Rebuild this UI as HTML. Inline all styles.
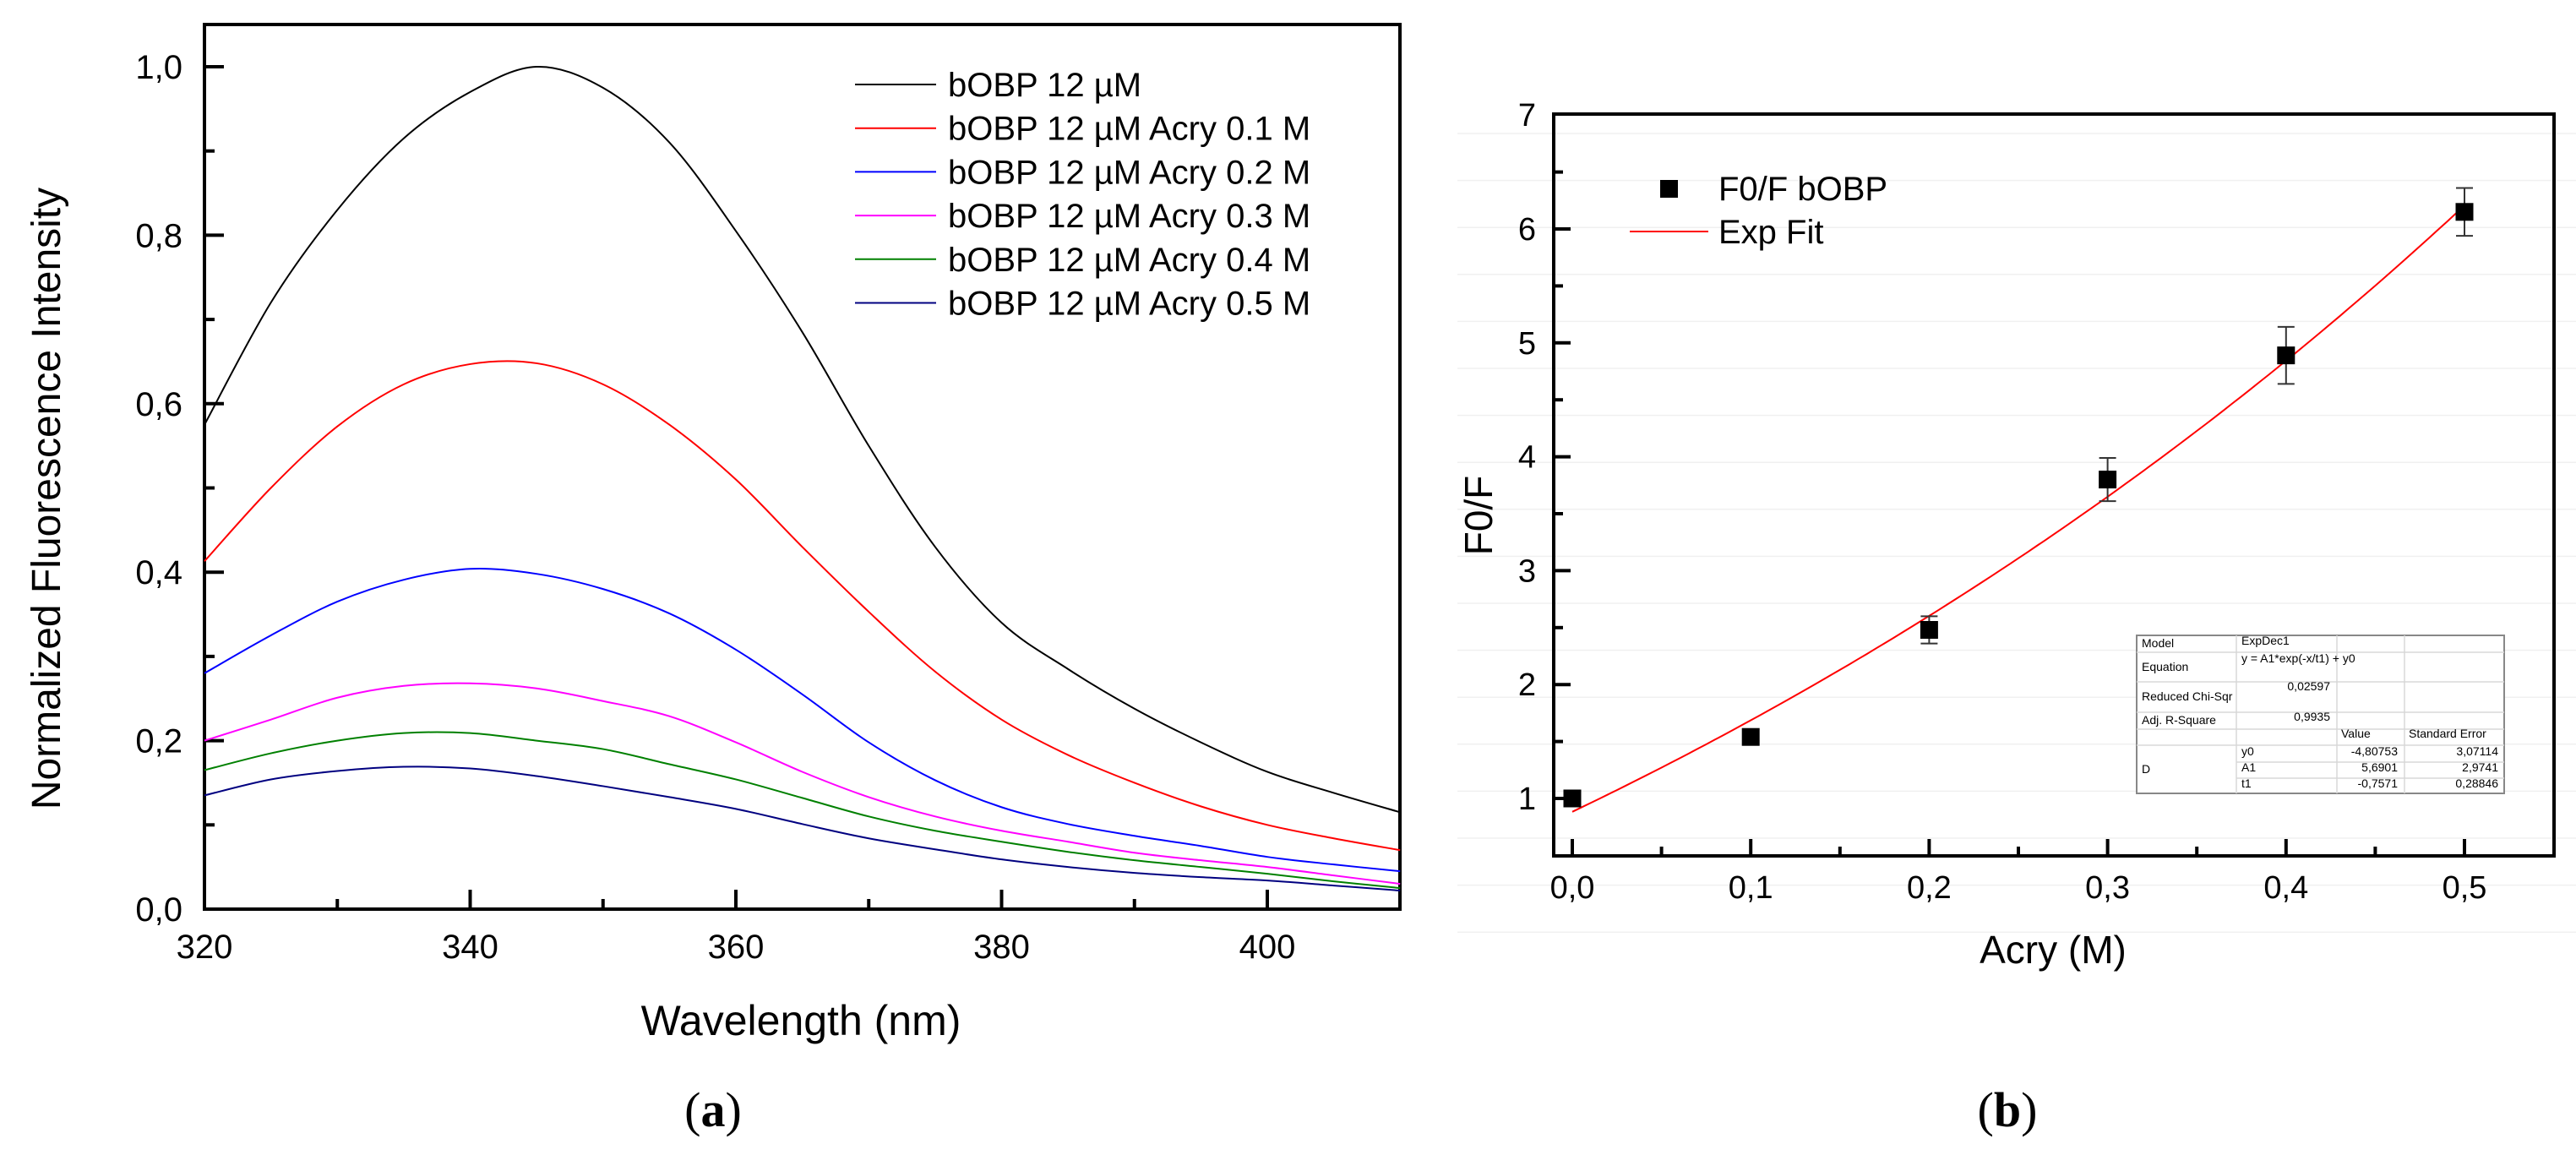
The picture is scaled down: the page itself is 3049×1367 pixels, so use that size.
<!DOCTYPE html>
<html><head><meta charset="utf-8"><style>
html,body{margin:0;padding:0;background:#fff;}
svg{display:block;font-family:"Liberation Sans",sans-serif;}
</style></head><body>
<svg id="fig" width="3049" height="1367" viewBox="0 0 3049 1367" xmlns="http://www.w3.org/2000/svg">
<g id="gA"></g>
<g id="gB"></g>
</svg>
<script>
// Panel (a) data
const wavelengths = [320,325,330,335,340,345,350,355,360,365,370,375,380,385,390,395,400,405,410];
const seriesNames = ["bOBP 12 µM","bOBP 12 µM Acry 0.1 M","bOBP 12 µM Acry 0.2 M","bOBP 12 µM Acry 0.3 M","bOBP 12 µM Acry 0.4 M","bOBP 12 µM Acry 0.5 M"];
const seriesColors = ["#000000","#ff0000","#0000ff","#ff00ff","#008000","#000080"];
const s0 = [0.575,0.72,0.83,0.915,0.97,1.0,0.975,0.91,0.805,0.685,0.55,0.43,0.34,0.285,0.238,0.198,0.163,0.138,0.115];
const s1 = [0.413,0.50,0.573,0.623,0.647,0.648,0.623,0.575,0.51,0.43,0.353,0.282,0.225,0.183,0.15,0.122,0.1,0.084,0.07];
const s2 = [0.28,0.325,0.365,0.391,0.404,0.398,0.38,0.351,0.308,0.255,0.198,0.153,0.121,0.101,0.087,0.075,0.062,0.053,0.045];
const s3 = [0.20,0.225,0.251,0.265,0.268,0.262,0.247,0.229,0.198,0.163,0.133,0.11,0.093,0.08,0.067,0.058,0.05,0.04,0.03];
const s4 = [0.165,0.185,0.2,0.209,0.209,0.2,0.19,0.172,0.154,0.132,0.11,0.093,0.08,0.068,0.058,0.05,0.042,0.033,0.025];
const s5 = [0.135,0.154,0.164,0.169,0.167,0.158,0.146,0.133,0.119,0.101,0.084,0.071,0.059,0.05,0.043,0.038,0.034,0.028,0.022];
const xTicksA = [320,340,360,380,400];
const yTicksA = ["0,0","0,2","0,4","0,6","0,8","1,0"];
// Panel (b) data
const acry = [0.0,0.1,0.2,0.3,0.4,0.5];
const f0f = [1.0,1.54,2.48,3.80,4.89,6.15];
const f0fErr = [0.03,0.04,0.12,0.19,0.25,0.21];
const fitParams = [-4.80753,5.6901,-0.7571]; // y0, A1, t1
const xTicksB = ["0,0","0,1","0,2","0,3","0,4","0,5"];
const yTicksB = ["1","2","3","4","5","6","7"];

const NS="http://www.w3.org/2000/svg";
function mk(parent,tag,attrs,text){const e=document.createElementNS(NS,tag);for(const k in attrs)e.setAttribute(k,attrs[k]);if(text!==undefined)e.textContent=text;parent.appendChild(e);return e;}

// ---------- Panel A ----------
const gA=document.getElementById('gA');
const AL=242,AR=1657,AT=29,AB=1076;
const xA=v=>AL+(v-320)*(1500-242)/80;
const yA=v=>AB-v*(AB-79);
const fa=mk(gA,'rect',{x:AL,y:AT,width:AR-AL,height:AB-AT,fill:'none',stroke:'#000','stroke-width':4});


for(let v=0;v<=10;v++){const y=yA(v/10);const len=v%2===0?23:12;
 const t=mk(gA,'line',{x1:AL,x2:AL+len,y1:y,y2:y,stroke:'#000','stroke-width':4});
 
 }
yTicksA.forEach((lab,i)=>{const t=mk(gA,'text',{x:216,y:yA(i*0.2)+14,'font-size':40,'text-anchor':'end'},lab);
 
 });
for(let w=330;w<410;w+=10){const x=xA(w);const len=(w%20===0)?23:12;
 const t=mk(gA,'line',{x1:x,x2:x,y1:AB,y2:AB-len,stroke:'#000','stroke-width':4});
 
 }
xTicksA.forEach(w=>{const t=mk(gA,'text',{x:xA(w),y:1134,'font-size':40,'text-anchor':'middle'},String(w));
 
 });
const allS=[s0,s1,s2,s3,s4,s5];
allS.forEach((s,i)=>{
 const pts=wavelengths.map((w,j)=>[xA(w),yA(s[j])]);
 let d='M'+pts[0][0]+','+pts[0][1];
 for(let j=0;j<pts.length-1;j++){const p0=pts[j-1]||pts[j],p1=pts[j],p2=pts[j+1],p3=pts[j+2]||p2;
  const c1=[p1[0]+(p2[0]-p0[0])/6,p1[1]+(p2[1]-p0[1])/6],c2=[p2[0]-(p3[0]-p1[0])/6,p2[1]-(p3[1]-p1[1])/6];
  d+=' C'+c1[0]+','+c1[1]+' '+c2[0]+','+c2[1]+' '+p2[0]+','+p2[1];}
 const p=mk(gA,'path',{d:d,fill:'none',stroke:seriesColors[i],'stroke-width':2});
 
 
 const ly=100+i*51.7;
 const l=mk(gA,'line',{x1:1012,x2:1108,y1:ly,y2:ly,stroke:seriesColors[i],'stroke-width':2});
 
 
 const lt=mk(gA,'text',{x:1122,y:ly+14,'font-size':40},seriesNames[i]);
 
 
});
let t;
t=mk(gA,'text',{x:948,y:1225,'font-size':50,'text-anchor':'middle'},'Wavelength (nm)');


t=mk(gA,'text',{x:0,y:0,'font-size':48,'text-anchor':'middle',transform:'translate(71,590) rotate(-90)'},'Normalized Fluorescence Intensity');


t=mk(gA,'text',{x:844,y:1333,'font-size':58,'text-anchor':'middle','font-family':'Liberation Serif, serif'},'');
t.innerHTML='(<tspan font-weight="bold">a</tspan>)';



// ---------- Panel B ----------
const gB=document.getElementById('gB');
const BL=1839,BR=3023,BT=135,BB=1013;
const xB=v=>1861+v*2112;
const yB=v=>945-(v-1)*134.8;
for(let k=0;k<18;k++){const y=158+k*55.6;
 const g=mk(gB,'line',{x1:1725,x2:3049,y1:y,y2:y,stroke:'#f0f0f0','stroke-width':1.5});
 
 }
const fb=mk(gB,'rect',{x:BL,y:BT,width:BR-BL,height:BB-BT,fill:'none',stroke:'#000','stroke-width':4});


for(let v=1;v<7;v+=0.5){const y=yB(v);const len=(v%1===0)?20:11;
 const tk=mk(gB,'line',{x1:BL,x2:BL+len,y1:y,y2:y,stroke:'#000','stroke-width':4});
 
 }
yTicksB.forEach((lab,i)=>{const tl=mk(gB,'text',{x:1818,y:yB(i+1)+13,'font-size':38,'text-anchor':'end'},lab);
 
 });
for(let k=0;k<=10;k++){const x=xB(k*0.05);const len=(k%2===0)?20:11;
 const tk=mk(gB,'line',{x1:x,x2:x,y1:BB,y2:BB-len,stroke:'#000','stroke-width':4});
 
 }
xTicksB.forEach((lab,i)=>{const tl=mk(gB,'text',{x:xB(i*0.1),y:1063,'font-size':38,'text-anchor':'middle'},lab);
 
 });
let fd='';
for(let k=0;k<=100;k++){const x=0.5*k/100;const y=fitParams[0]+fitParams[1]*Math.exp(-x/fitParams[2]);
 fd+=(k?'L':'M')+xB(x).toFixed(1)+','+yB(y).toFixed(1);}
const fl=mk(gB,'path',{d:fd,fill:'none',stroke:'#ff0000','stroke-width':2});


acry.forEach((a,i)=>{const x=xB(a),y=yB(f0f[i]);
 const eh=f0fErr[i]*134.8;
 const eb=mk(gB,'path',{d:`M${x},${y-eh}V${y+eh}M${x-10},${y-eh}H${x+10}M${x-10},${y+eh}H${x+10}`,stroke:'#333',fill:'none','stroke-width':2});
 
 
 const m=mk(gB,'rect',{x:x-10.5,y:y-10.5,width:21,height:21,fill:'#000'});
 
 });
let e=mk(gB,'rect',{x:1965,y:213,width:21,height:21,fill:'#000'});


e=mk(gB,'text',{x:2034,y:237,'font-size':40},'F0/F bOBP');


e=mk(gB,'line',{x1:1929,x2:2022,y1:274,y2:274,stroke:'#ff0000','stroke-width':2});


e=mk(gB,'text',{x:2034,y:288,'font-size':40},'Exp Fit');


e=mk(gB,'text',{x:2430,y:1140,'font-size':46,'text-anchor':'middle'},'Acry (M)');


e=mk(gB,'text',{x:0,y:0,'font-size':46,'text-anchor':'middle',transform:'translate(1766,610) rotate(-90)'},'F0/F');


e=mk(gB,'text',{x:2376,y:1333,'font-size':58,'text-anchor':'middle','font-family':'Liberation Serif, serif'},'');
e.innerHTML='(<tspan font-weight="bold">b</tspan>)';


const tg=mk(gB,'g',{});


mk(tg,'rect',{x:2529,y:752,width:435,height:187,fill:'#fff',stroke:'#888','stroke-width':2});
[772,807,843,863,882,902,921].forEach((y,i)=>{const x1=(i>=5)?2647:2529;mk(tg,'line',{x1:x1,x2:2964,y1:y,y2:y,stroke:'#d8d8d8','stroke-width':1.5});});
[2647,2766,2846].forEach(x=>mk(tg,'line',{x1:x,x2:x,y1:752,y2:939,stroke:'#d8d8d8','stroke-width':1.5}));
const cells=[[2535,766,'start','Model'],[2653,763,'start','ExpDec1'],[2535,794,'start','Equation'],[2653,784,'start','y = A1*exp(-x/t1) + y0'],
[2535,829,'start','Reduced Chi-Sqr'],[2758,817,'end','0,02597'],[2535,857,'start','Adj. R-Square'],[2758,853,'end','0,9935'],
[2771,873,'start','Value'],[2851,873,'start','Standard Error'],[2653,894,'start','y0'],[2838,894,'end','-4,80753'],[2957,894,'end','3,07114'],
[2653,913,'start','A1'],[2838,913,'end','5,6901'],[2957,913,'end','2,9741'],[2653,932,'start','t1'],[2838,932,'end','-0,7571'],[2957,932,'end','0,28846'],[2535,915,'start','D']];
cells.forEach(c=>{const ct=mk(tg,'text',{x:c[0],y:c[1],'font-size':14,'text-anchor':c[2]},c[3]);
 
 });
</script>
</body></html>
